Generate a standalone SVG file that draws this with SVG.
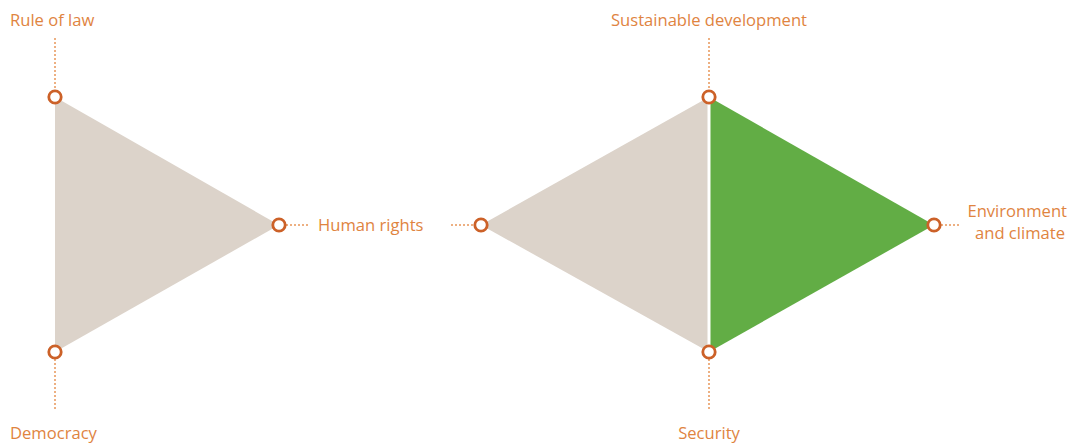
<svg xmlns="http://www.w3.org/2000/svg" width="1071" height="444" viewBox="0 0 1071 444">
<style>
.lbl{font-family:"Open Sans","Liberation Sans",sans-serif;font-size:16.6px;fill:#e0843f}
.dot{stroke:#e8965a;stroke-width:1.5;stroke-dasharray:2 2;fill:none}
.node{fill:#fff;stroke:#cc6128;stroke-width:2.8}
.gray{fill:#dcd3ca}
.green{fill:#62ad45}
</style>
<rect width="1071" height="444" fill="#fff"/>
<g id="shapes">
<polygon class="gray" points="55,97 55,352 279,225"/>
<polygon class="gray" points="709,97 709,352 481,225"/>
<polygon class="green" points="709,97 709,352 934,225"/>
<line x1="709" y1="97" x2="709" y2="352" stroke="#fff" stroke-width="3"/>
</g>
<g id="connectors">
<line class="dot" x1="55" y1="38" x2="55" y2="90"/>
<line class="dot" x1="55" y1="359" x2="55" y2="411"/>
<line class="dot" x1="286" y1="225" x2="309" y2="225"/>
<line class="dot" x1="451" y1="225" x2="474" y2="225"/>
<line class="dot" x1="709" y1="38" x2="709" y2="90"/>
<line class="dot" x1="709" y1="359" x2="709" y2="411"/>
<line class="dot" x1="941" y1="225" x2="961" y2="225"/>
</g>
<g id="rule-of-law"><circle class="node" cx="55" cy="97" r="6.2"/><text class="lbl" x="10" y="26">Rule of law</text></g>
<g id="democracy"><circle class="node" cx="55" cy="352" r="6.2"/><text class="lbl" x="10" y="439">Democracy</text></g>
<g id="human-rights"><circle class="node" cx="279" cy="225" r="6.2"/><circle class="node" cx="481" cy="225" r="6.2"/><text class="lbl" x="318" y="231">Human rights</text></g>
<g id="sustainable-development"><circle class="node" cx="709" cy="97" r="6.2"/><text class="lbl" x="709" y="26" text-anchor="middle">Sustainable development</text></g>
<g id="security"><circle class="node" cx="709" cy="352" r="6.2"/><text class="lbl" x="709" y="439" text-anchor="middle">Security</text></g>
<g id="environment"><circle class="node" cx="934" cy="225" r="6.2"/><text class="lbl" x="1067" y="217" text-anchor="end">Environment</text><text class="lbl" x="1065" y="239" text-anchor="end">and climate</text></g>
</svg>
